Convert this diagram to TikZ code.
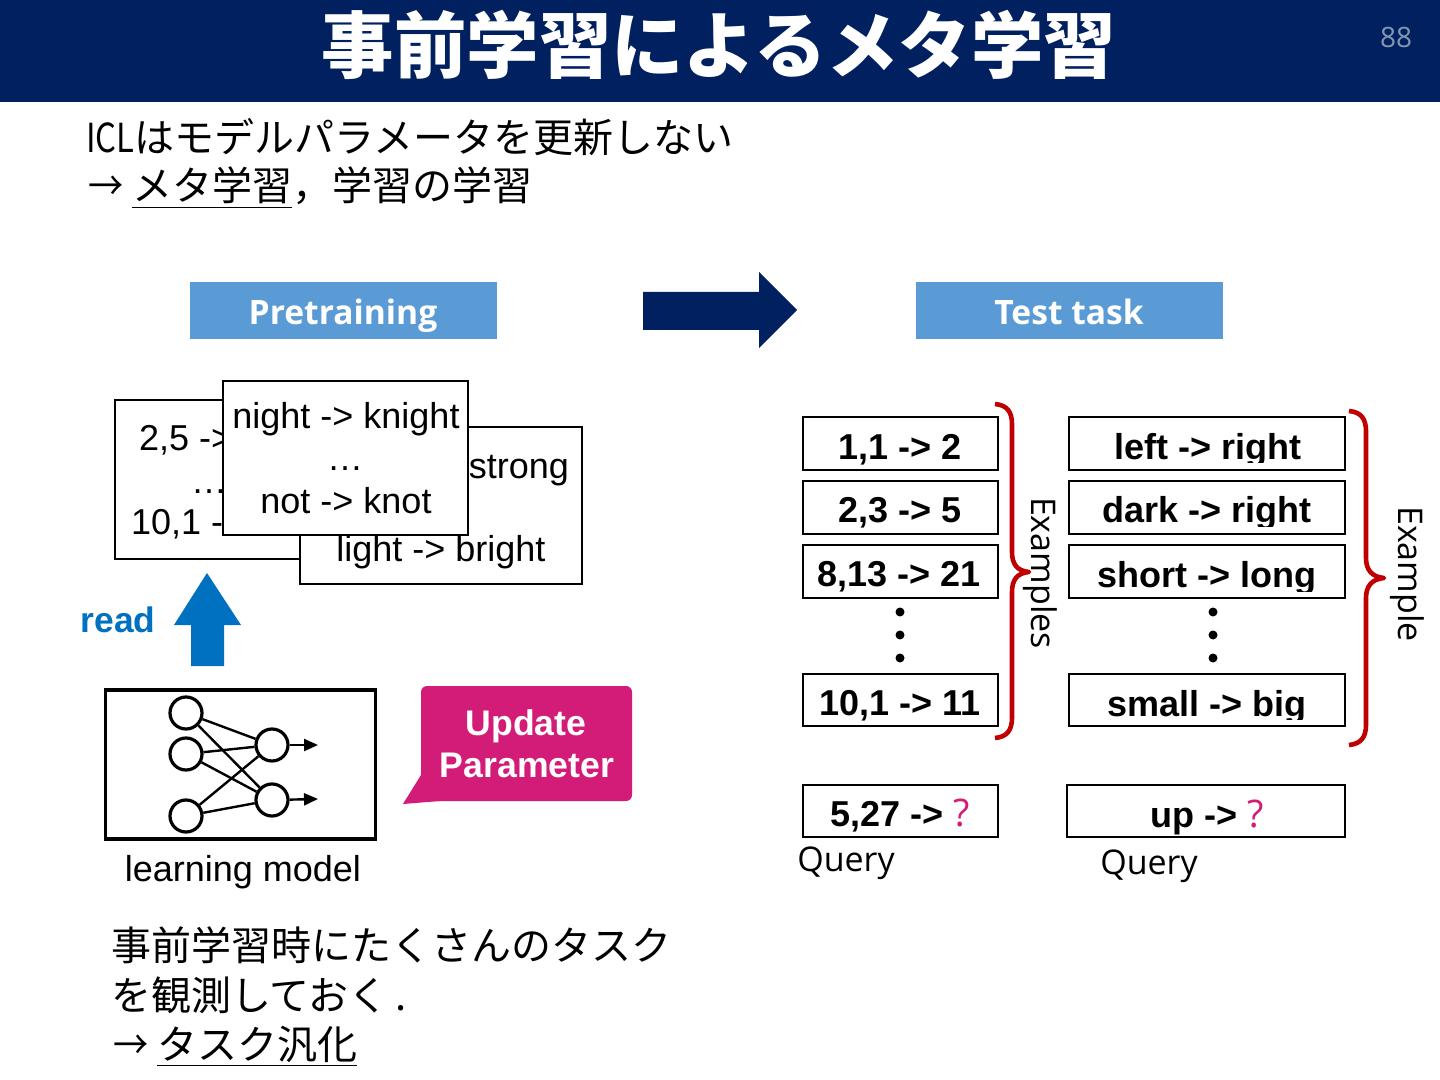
\documentclass[tikz,border=0pt]{standalone}
\usepackage{fontspec}
\usepackage{graphicx}
\setmainfont{Liberation Sans}
\newfontfamily\jp{Noto Sans CJK JP}
\newfontfamily\op{Open Sans}
\usetikzlibrary{arrows.meta}
\definecolor{navy}{HTML}{002060}
\definecolor{sky}{HTML}{5B9BD5}
\definecolor{readblue}{HTML}{0070C0}
\definecolor{magen}{HTML}{D31C77}
\definecolor{brace}{HTML}{C00000}
\definecolor{pagenum}{HTML}{8497B0}
\newcommand{\fs}[1]{\fontsize{#1}{#1}\selectfont}
\newcommand{\narrowarrow}{\scalebox{0.88}[1]{→}}
\tikzset{
  x=0.5pt,y=-0.5pt,
  txt/.style={inner sep=0pt,outer sep=0pt,anchor=base},
  jptxt/.style={txt,anchor=base west,font=\jp\fs{20}},
  card/.style={draw=black,line width=1pt,fill=white},
  ex/.style={draw=black,line width=1pt,fill=white},
  extxt/.style={txt,font=\bfseries\fs{18}},
  cardtxt/.style={txt,font=\fs{18}},
  neuron/.style={circle,draw=black,line width=1.6pt,minimum size=16pt,inner sep=0pt,fill=white},
  wire/.style={draw=black,line width=1.2pt},
  banner/.style={fill=sky},
  bannertxt/.style={txt,text=white,font=\op\bfseries\fs{16.8}},
  bracestyle/.style={draw=brace,line width=2.3pt,line join=round},
  dotm/.style={circle,fill=black,minimum size=4.5pt,inner sep=0pt},
}
\begin{document}
\begin{tikzpicture}
\useasboundingbox (0,0) rectangle (1440,1080);
\fill[white] (0,0) rectangle (1440,1080);
\fill[navy] (0,0) rectangle (1440,102);
\node[txt,text=white,font=\jp\bfseries\fs{36.2}] (title) at (719,73) {事前学習によるメタ学習};
\node[txt,text=pagenum,font=\op\fs{14}] (pg) at (1396,48) {88};
\node[jptxt] (l1) at (86,153) {\scalebox{0.82}[1]{ICL}はモデルパラメータを更新しない};
\node[jptxt] (l2) at (88,201) {\narrowarrow{} \underline{メタ学習}，学習の学習};
% banners
\fill[banner] (190,282) rectangle (497,339);
\node[bannertxt] (pre) at (343,325) {Pretraining};
\fill[banner] (916,282) rectangle (1223,339);
\node[bannertxt] (test) at (1069,325) {Test task};
\fill[navy] (643,292) -- (759,292) -- (759,272) -- (797,310) -- (759,348) -- (759,330) -- (643,330) -- cycle;
% cards
\draw[card] (115,400) rectangle (320,559);
\node[cardtxt,anchor=base west] (c1a) at (139,451) {2,5 ->};
\node[cardtxt] (c1b) at (209,494) {…};
\node[cardtxt,anchor=base west] (c1c) at (131,534) {10,1 ->};
\draw[card] (300,427) rectangle (582,584);
\node[cardtxt,anchor=base east] (c3a) at (569,479) {strong};
\node[cardtxt] (c3b) at (441,561) {light -> bright};
\draw[card] (223,381) rectangle (468,535);
\node[cardtxt] (c2a) at (346,429) {night -> knight};
\node[cardtxt] (c2b) at (345,471) {…};
\node[cardtxt] (c2c) at (346,513) {not -> knot};
% read arrow
\fill[readblue] (207,573) -- (241,625) -- (224,625) -- (224,666) -- (191,666) -- (191,625) -- (174,625) -- cycle;
\node[txt,text=readblue,font=\bfseries\fs{17.7}] (read) at (118,632) {read};
% model
\draw[draw=black,line width=1.6pt] (105.5,690) rectangle (375.5,839);
\node[neuron] (i1) at (186,713) {};
\node[neuron] (i2) at (186,754) {};
\node[neuron] (i3) at (186,816) {};
\node[neuron] (h1) at (272,745) {};
\node[neuron] (h2) at (272,800) {};
\coordinate (o1) at (318,745);
\coordinate (o2) at (318,799);
\foreach \a in {i1,i2,i3} \foreach \b in {h1,h2} \draw[wire] (\a) -- (\b);
\draw[wire,-{Triangle[length=7pt,width=6pt]}] (h1) -- (o1);
\draw[wire,-{Triangle[length=7pt,width=6pt]}] (h2) -- (o2);
\node[txt,font=\fs{18}] (lm) at (243,881) {learning model};
% bubble
\fill[magen,rounded corners=3pt] (421,686) rectangle (632,801);
\fill[magen] (421,775) -- (403,804) -- (440,801) -- (440,775) -- cycle;
\node[txt,text=white,font=\bfseries\fs{17.8}] (u1) at (526,735) {Update};
\node[txt,text=white,font=\bfseries\fs{17.8}] (u2) at (527,777) {Parameter};
% left example boxes
\draw[ex] (803,417) rectangle (998,470);
\draw[ex] (803,481) rectangle (998,534);
\draw[ex] (803,545) rectangle (998,598);
\draw[ex] (803,674) rectangle (998,726);
\draw[ex] (803,785) rectangle (998,837);
\node[extxt] (a1) at (900,459) {1,1 -> 2};
\node[extxt] (a2) at (900,523) {2,3 -> 5};
\node[extxt] (a3) at (899,586) {8,13 -> 21};
\node[extxt] (a4) at (900,715) {10,1 -> 11};
\node[extxt] (a5) at (900,826) {5,27 -> \textcolor{magen}{\op\mdseries\fs{19}?}};
\foreach \n/\y in {d1/612,d2/635,d3/658} \node[dotm] (\n) at (900,\y) {};
% right example boxes
\draw[ex] (1069,417) rectangle (1345,470);
\draw[ex] (1069,481) rectangle (1345,534);
\draw[ex] (1069,545) rectangle (1345,598);
\draw[ex] (1069,674) rectangle (1345,726);
\draw[ex] (1067,785) rectangle (1345,837);
\begin{scope}\clip (1070,420) rectangle (1344,462.5);
\node[extxt] (b1) at (1208,459) {left -> right};\end{scope}
\begin{scope}\clip (1070,484) rectangle (1344,526.5);
\node[extxt] (b2) at (1207,523) {dark -> right};\end{scope}
\begin{scope}\clip (1070,548) rectangle (1344,591);
\node[extxt] (b3) at (1207,587) {short -> long};\end{scope}
\begin{scope}\clip (1070,677) rectangle (1344,719.5);
\node[extxt] (b4) at (1207,716) {small -> big};\end{scope}
\node[extxt] (b5) at (1207,827) {up -> \textcolor{magen}{\op\mdseries\fs{19}?}};
\foreach \n/\y in {e1/612,e2/635,e3/658} \node[dotm] (\n) at (1213,\y) {};
% braces
\draw[bracestyle] (995,404) .. controls (1007,405) and (1012,412) .. (1012,424) -- (1012,552) .. controls (1012,564) and (1017,571) .. (1029,572) .. controls (1017,573) and (1012,580) .. (1012,592) -- (1012,718) .. controls (1012,730) and (1007,737) .. (995,738);
\draw[bracestyle] (1349,411) .. controls (1361,412) and (1366,419) .. (1366,431) -- (1366,558) .. controls (1366,570) and (1372,577) .. (1384,578) .. controls (1372,579) and (1366,586) .. (1366,598) -- (1366,725) .. controls (1366,737) and (1361,744) .. (1349,745);
\node[txt,rotate=-90,font=\op\fs{17}] (exs) at (1031,573) {Examples};
\node[txt,rotate=-90,font=\op\fs{17}] (exr) at (1398,574) {Example};
\node[txt,font=\op\fs{17}] (q1) at (846,871) {Query};
\node[txt,font=\op\fs{17}] (q2) at (1149,874) {Query};
% bottom text
\node[jptxt] (t1) at (111,960) {事前学習時にたくさんのタスク};
\node[jptxt] (t2) at (111,1010) {を観測しておく\,.};
\node[jptxt] (t3) at (113,1059) {\narrowarrow{} \underline{タスク汎化}};
\end{tikzpicture}
\end{document}
